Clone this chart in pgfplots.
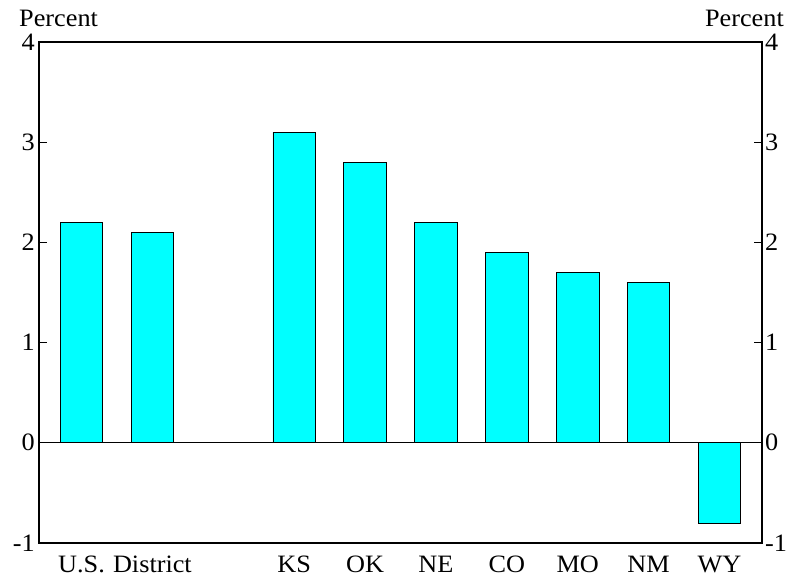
\documentclass[border=0pt]{standalone}
\usepackage{fontspec}
\setmainfont{Liberation Serif}[FakeStretch=1.05]
\usepackage{pgfplots}
\pgfplotsset{compat=1.18}
\usetikzlibrary{calc}
\definecolor{barcyan}{RGB}{0,255,255}
\begin{document}
\begin{tikzpicture}[font=\fontsize{25}{30}\selectfont]
\begin{axis}[
 name=main,
 scale only axis, width=723pt, height=501pt,
 xmin=-0.6, xmax=9.6, ymin=-1, ymax=4,
 xtick={0,1,3,4,5,6,7,8,9},
 xticklabels={U.S.,District,KS,OK,NE,CO,MO,NM,WY},
 x tick style={draw=none},
 ytick={-1,0,1,2,3,4},
 yticklabels={-1,0,1,2,3,4},
 ytick pos=both, yticklabel pos=left,
 tick align=inside, major tick length=8pt,
 y tick style={black, line width=1.3pt},
 axis line style={black, line width=1.5pt},
 xticklabel style={anchor=north, inner sep=0pt, yshift=-5pt},
 yticklabel style={anchor=east, inner sep=0pt, xshift=-4pt},
 ybar, bar width=0.6, bar shift=0pt,
 clip=false,
]
\addplot[fill=barcyan, draw=black, line width=0.8pt] coordinates {(0,2.2) (1,2.1) (3,3.1) (4,2.8) (5,2.2) (6,1.9) (7,1.7) (8,1.6) (9,-0.8)};
\draw[black, line width=1.3pt] (axis cs:-0.6,0) -- (axis cs:9.6,0);
\end{axis}
\begin{axis}[
 scale only axis, width=723pt, height=501pt,
 xmin=-0.6, xmax=9.6, ymin=-1, ymax=4,
 hide x axis,
 axis y line*=right,
 y axis line style={draw=none},
 ytick={-1,0,1,2,3,4}, yticklabels={-1,0,1,2,3,4},
 y tick style={draw=none},
 yticklabel style={anchor=west, inner sep=0pt, xshift=3pt},
]
\addplot[draw=none] coordinates {(0,0)};
\end{axis}
\node[anchor=base west, inner sep=0pt] at ($(main.north west)+(-20pt,15pt)$) {Percent};
\node[anchor=base east, inner sep=0pt] at ($(main.north east)+(22pt,15pt)$) {Percent};
\pgfresetboundingbox
\path[use as bounding box] ($(main.south west)+(-39pt,-34pt)$) rectangle ($(main.north east)+(24pt,42pt)$);
\end{tikzpicture}
\end{document}
